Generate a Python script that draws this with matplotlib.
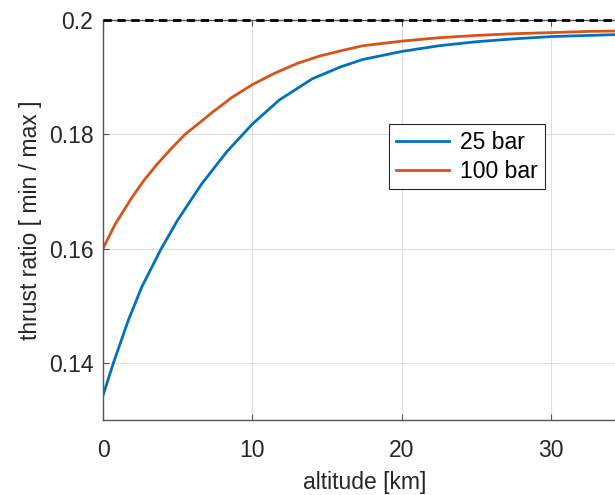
import matplotlib
matplotlib.use("Agg")
import matplotlib.pyplot as plt

# altitude [km] and thrust ratio
alt_25 = [0, 0.7, 1.7, 2.6, 3.9, 5.0, 6.6, 8.3, 10, 11.8, 14, 15.9, 17.4, 20, 22.5, 25, 27.5, 30, 32.5, 35]
ratio_25 = [0.1343, 0.1400, 0.1475, 0.1533, 0.1600, 0.1650, 0.1713, 0.1770, 0.1818, 0.1860,
            0.1897, 0.1918, 0.1931, 0.1945, 0.1955, 0.1962, 0.1967, 0.1971, 0.1973, 0.1975]

alt_100 = [0, 0.8, 1.9, 2.7, 3.6, 4.6, 5.5, 7.3, 8.6, 10, 11.5, 13, 14.5, 15.9, 17.4, 20,
           22.5, 25, 27.5, 30, 32.5, 35]
ratio_100 = [0.1600, 0.1642, 0.1688, 0.1718, 0.1747, 0.1776, 0.1800, 0.1838, 0.1864, 0.1887,
             0.1907, 0.1924, 0.1937, 0.1946, 0.1955, 0.1963, 0.1969, 0.1973, 0.1976, 0.1978,
             0.1980, 0.1981]

limit = 0.2
x_ticks = [0, 10, 20, 30]
y_ticks = [0.14, 0.16, 0.18, 0.2]

plt.rcParams['font.family'] = ['Liberation Sans', 'DejaVu Sans']
plt.rcParams['font.size'] = 16.5

fig = plt.figure(figsize=(6.15, 4.95), dpi=100)
ax = fig.add_axes([103/615, 1 - 420/495, (626 - 103)/615, 400/495])

ax.plot(alt_25, ratio_25, color='#0072BD', lw=2.0, label='25 bar')
ax.plot(alt_100, ratio_100, color='#D95319', lw=2.0, label='100 bar')
ax.axhline(limit, color='black', lw=2.0, dashes=(3, 2), zorder=5, clip_on=False)

ax.set_xlim(0, 35)
ax.set_ylim(0.13, 0.2)
ax.set_xticks(x_ticks)
ax.set_yticks(y_ticks)
ax.set_yticklabels(['%g' % v for v in y_ticks])
ax.grid(True, color='#dedede', lw=0.8)
ax.set_axisbelow(True)

for s in ax.spines.values():
    s.set_color('#555555')
    s.set_linewidth(1.0)
ax.tick_params(direction='in', length=4, width=0.8, color='#555555',
               top=True, right=True, labelcolor='#262626')
ax.tick_params(axis='x', pad=14)
ax.tick_params(axis='y', pad=7)

ax.set_xlabel('altitude [km]', color='#262626', labelpad=6)
ax.set_ylabel('thrust ratio [ min / max ]', color='#262626', labelpad=5)

leg = ax.legend(loc='upper left', bbox_to_anchor=((389 - 103)/523, (420 - 124)/400),
                fancybox=False, framealpha=1, edgecolor='#262626', fontsize=16.5,
                handlelength=2.3, borderpad=0.3, labelspacing=0.25, handletextpad=0.5,
                borderaxespad=0)
leg.get_frame().set_linewidth(0.8)

fig.savefig('out.png', dpi=100)
